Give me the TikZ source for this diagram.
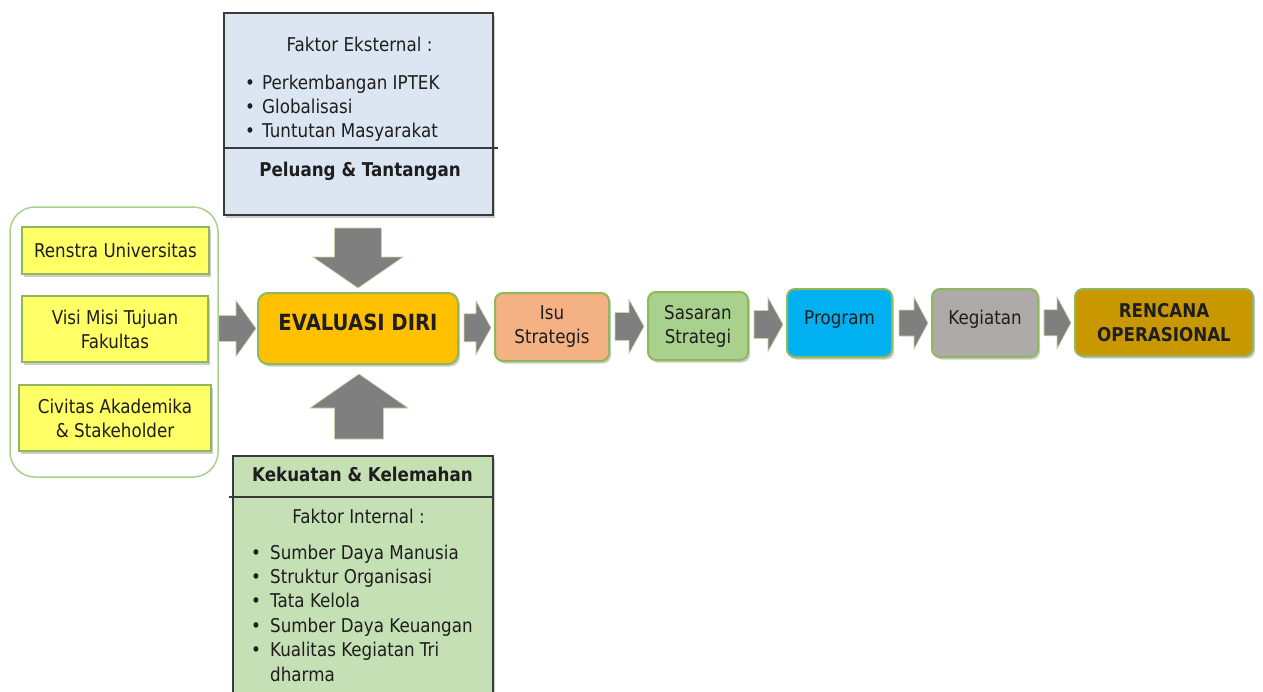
\documentclass[tikz,border=0pt]{standalone}
\usepackage{fontspec}
\setmainfont[FakeStretch=0.88]{DejaVu Sans}
\usetikzlibrary{calc,shadows}
\definecolor{extfill}{HTML}{DCE6F2}
\definecolor{intfill}{HTML}{C5E0B4}
\definecolor{yel}{HTML}{FFFF66}
\definecolor{grnline}{HTML}{8FB85B}
\definecolor{grpline}{HTML}{A9D18E}
\definecolor{evfill}{HTML}{FFC000}
\definecolor{isufill}{HTML}{F4B183}
\definecolor{sasfill}{HTML}{A9D18E}
\definecolor{progfill}{HTML}{00B0F0}
\definecolor{kegfill}{HTML}{AEAAAA}
\definecolor{renfill}{HTML}{C99700}
\definecolor{arrfill}{HTML}{7F7F7F}
\definecolor{txtc}{HTML}{1E1E1E}
\definecolor{boxline}{HTML}{3A3A3A}
% horizontal block arrow: #1 from, #2 to, #3 gap start, #4 gap end, #5 shaft half, #6 head half, #7 head length, #8 fraction for y
\newcommand\harr[8]{%
  \path[blockarrow] let \p1=(#1.east), \p2=(#2.west), \p3=($(#1.center)!#8!(#2.center)$) in
  (\x1+#3pt,\y3-#5pt) -- (\x2-#4pt-#7pt,\y3-#5pt) -- (\x2-#4pt-#7pt,\y3-#6pt) -- (\x2-#4pt,\y3)
  -- (\x2-#4pt-#7pt,\y3+#6pt) -- (\x2-#4pt-#7pt,\y3+#5pt) -- (\x1+#3pt,\y3+#5pt) -- cycle;}
\begin{document}
\begin{tikzpicture}[x=1pt,y=-1pt,
  every node/.style={text=txtc},
  fnt/.style={font=\fontsize{19}{24}\selectfont},
  lbl/.style={fnt, inner sep=0pt, text height=13.5pt, text depth=3pt},
  blbl/.style={lbl, font=\fontsize{19}{24}\selectfont\bfseries},
  shad/.style={drop shadow={shadow xshift=2pt,shadow yshift=-2.5pt,opacity=0.2,fill=black}},
  panel/.style={draw=boxline, line width=2pt, shad, inner sep=0pt},
  divider/.style={draw=boxline, line width=1.5pt},
  ybox/.style={draw=grnline, line width=2pt, fill=yel, shad, fnt, align=center, inner sep=0pt},
  cbox/.style={draw=grnline, line width=2pt, rounded corners=8pt, shad, fnt, align=center, inner sep=0pt},
  blockarrow/.style={fill=arrfill, draw=grnline!55!white, line width=0.6pt},
]
\clip (0,0) rectangle (1263,691);
\fill[white] (0,0) rectangle (1263,691);

% ---- top panel: Faktor Eksternal
\node[panel, fill=extfill, minimum width=269pt, minimum height=202pt] (ext) at (358.5,114) {};
\node[lbl] (extT) at (359.5,46) {Faktor Eksternal :};
\foreach \t [count=\i] in {Perkembangan IPTEK, Globalisasi, Tuntutan Masyarakat} {
  \node[lbl, anchor=west] (eb\i) at (245, 60+24*\i) {\textbullet};
  \node[lbl, anchor=west] (et\i) at (262, 60+24*\i) {\t};
}
\draw[divider] ([yshift=-136pt]ext.north west) -- ([yshift=-136pt, xshift=4pt]ext.north east);
\node[blbl] (peluang) at (360,171) {Peluang \& Tantangan};

% ---- bottom panel: Faktor Internal
\node[panel, fill=intfill, minimum width=260pt, minimum height=260pt, anchor=north] (int) at (363,455) {};
\node[blbl] (kek) at (362.5,476) {Kekuatan \& Kelemahan};
\draw[divider] ([yshift=-42pt, xshift=-3pt]int.north west) -- ([yshift=-42pt]int.north east);
\node[lbl] (fi) at (358.5,518) {Faktor Internal :};
\foreach \t/\yy [count=\i] in {Sumber Daya Manusia/554, Struktur Organisasi/578, Tata Kelola/602, Sumber Daya Keuangan/627, Kualitas Kegiatan Tri/651} {
  \node[lbl, anchor=west] (ib\i) at (251, \yy) {\textbullet};
  \node[lbl, anchor=west] (it\i) at (270, \yy) {\t};
}
\node[lbl, anchor=west] (it6) at (270, 676) {dharma};

% ---- left group
\node[draw=grpline, line width=1.5pt, rounded corners=25pt, minimum width=208pt, minimum height=270pt] (grp) at (114,342) {};
\node[ybox, minimum width=187pt, minimum height=47pt] (renstra) at (115.5,250.5) {Renstra Universitas};
\node[ybox, minimum width=186pt, minimum height=66pt] (visi) at (115,329) {Visi Misi Tujuan\\Fakultas};
\node[ybox, minimum width=192pt, minimum height=66pt] (civ) at (115,418) {Civitas Akademika\\\& Stakeholder};

% ---- center and chain
\node[cbox, fill=evfill, minimum width=200pt, minimum height=71pt, rounded corners=10pt,
  font=\fontsize{22.3}{26}\selectfont\bfseries, text height=16pt, text depth=12pt] (ev) at (358,328.5) {EVALUASI DIRI};
\node[cbox, fill=isufill, minimum width=114pt, minimum height=68pt] (isu) at (552,327) {Isu\\Strategis};
\node[cbox, fill=sasfill, minimum width=100pt, minimum height=68pt] (sas) at (698,326) {Sasaran\\Strategi};
\node[cbox, fill=progfill, minimum width=105pt, minimum height=68pt, text height=13.5pt, text depth=10.5pt] (prog) at (839.5,323) {Program};
\node[cbox, fill=kegfill, minimum width=106pt, minimum height=68pt, text height=13.5pt, text depth=10.5pt] (keg) at (985,323) {Kegiatan};
\node[cbox, fill=renfill, minimum width=178pt, minimum height=67pt,
  font=\fontsize{19}{24.5}\selectfont\bfseries] (renop) at (1164,322.5) {RENCANA\\OPERASIONAL};

% ---- block arrows
\harr{grp}{ev}{0}{1}{13}{28}{20}{1}
\harr{ev}{isu}{5}{3}{14}{27}{15}{0.5}
\harr{isu}{sas}{5}{3}{14}{27}{15}{0.5}
\harr{sas}{prog}{5}{3}{14}{27}{15}{0.5}
\harr{prog}{keg}{6}{3}{13}{26}{14}{0.5}
\harr{keg}{renop}{5}{3}{13}{26}{14}{0.5}

\path[blockarrow] let \p1=(ext.south), \p2=(ev.north) in
  (\x2-23.5pt,\y1-12pt) -- (\x2+23.5pt,\y1-12pt) -- (\x2+23.5pt,\y2+35pt) -- (\x2+45pt,\y2+35pt)
  -- (\x2,\y2+4pt) -- (\x2-45pt,\y2+35pt) -- (\x2-23.5pt,\y2+35pt) -- cycle;
\path[blockarrow] let \p1=(int.north), \p2=(ev.south) in
  (\x2-23.5pt,\y1+16pt) -- (\x2+25.5pt,\y1+16pt) -- (\x2+25.5pt,\y2-43pt) -- (\x2+50pt,\y2-43pt)
  -- (\x2+1pt,\y2-9pt) -- (\x2-48pt,\y2-43pt) -- (\x2-23.5pt,\y2-43pt) -- cycle;
\end{tikzpicture}
\end{document}
